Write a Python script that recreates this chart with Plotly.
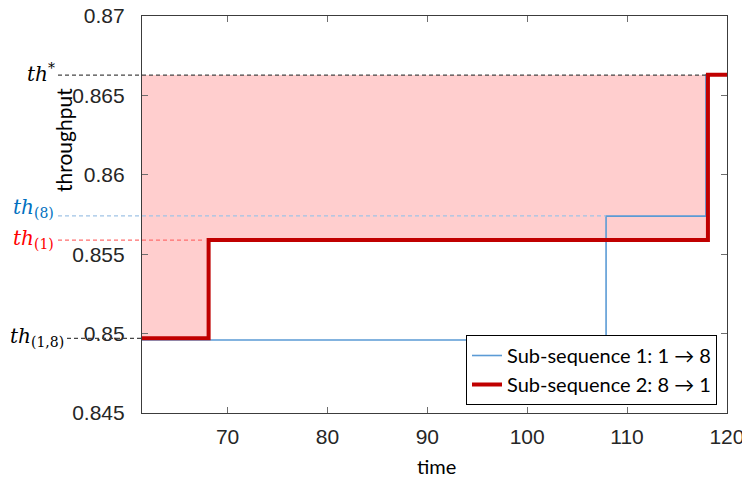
import plotly.graph_objects as go

# ---- data ----
x_range = [61.43, 120.01]
y_ticks = [0.845, 0.85, 0.855, 0.86, 0.865, 0.87]
y_tick_text = ["0.845", "0.85", "0.855", "0.86", "0.865", "0.87"]
x_ticks = [70, 80, 90, 100, 110, 120]

sub1_time = [61.43, 107.9, 117.9, 120.3]
sub1_thr = [0.8496, 0.8574, 0.8663, 0.8663]

sub2_time = [61.43, 68.1, 118.1, 120.3]
sub2_thr = [0.8497, 0.8559, 0.8663, 0.8663]

th_star = 0.86628
th_8 = 0.85741
th_1 = 0.85589
th_18 = 0.8497

BLUE = "rgb(91,155,213)"
RED = "rgb(192,0,0)"

fig = go.Figure()

# pink region between red step line and th*
fx, fy = [], []
for i in range(len(sub2_time) - 2):
    fx += [sub2_time[i], sub2_time[i + 1]]
    fy += [sub2_thr[i], sub2_thr[i]]
fx += [sub2_time[-2], sub2_time[0]]
fy += [th_star, th_star]
fig.add_trace(go.Scatter(x=fx, y=fy, fill="toself", fillcolor="rgb(255,206,206)",
                         line=dict(width=0), mode="lines", showlegend=False,
                         hoverinfo="skip"))

fig.add_trace(go.Scatter(x=sub1_time, y=sub1_thr, mode="lines", line_shape="hv",
                         line=dict(color=BLUE, width=1.6),
                         name="Sub-sequence 1: 1 → 8"))
fig.add_trace(go.Scatter(x=sub2_time, y=sub2_thr, mode="lines", line_shape="hv",
                         line=dict(color=RED, width=4),
                         name="Sub-sequence 2: 8 → 1"))

L, R, T, B = 142, 15, 16, 66
W, H = 742, 479
pw = W - L - R
ph = H - T - B


def px2paper(px):
    return (px - L) / pw


def d2paper(x):
    return (x - x_range[0]) / (x_range[1] - x_range[0])


shapes = []
def dashed(x0p, x1p, y, color):
    shapes.append(dict(type="line", xref="paper", yref="y", x0=x0p, x1=x1p,
                       y0=y, y1=y, line=dict(color=color, width=1.2, dash="4px,3px")))

dashed(px2paper(58), d2paper(sub1_time[2]), th_star, "rgb(70,70,70)")
dashed(px2paper(58), d2paper(sub1_time[1]), th_8, "rgb(160,195,230)")
dashed(px2paper(58), d2paper(sub2_time[1]) - 0.006, th_1, "rgb(255,110,110)")
dashed(px2paper(67), 0.0, th_18, "rgb(70,70,70)")
fig.update_layout(shapes=shapes)

lab_font = dict(family="DejaVu Serif", size=20)
def label(text, y, color, right_px, yshift=0):
    fig.add_annotation(xref="paper", yref="y", x=px2paper(right_px), y=y, xanchor="right",
                       yanchor="middle", text=text, showarrow=False, yshift=yshift,
                       font=dict(color=color, **lab_font))

label("<i>th</i><sup>*</sup>", th_star, "black", 57, 2)
label("<i>th</i><sub>(8)</sub>", th_8, "rgb(0,112,192)", 56, 8)
label("<i>th</i><sub>(1)</sub>", th_1, "rgb(255,0,0)", 56, 1)
label("<i>th</i><sub>(1,8)</sub>", th_18, "black", 66, 1)

fig.add_annotation(xref="paper", yref="paper", x=px2paper(63), y=(H - B - 140) / ph,
                   xanchor="center", yanchor="middle",
                   text="throughput", textangle=-90, showarrow=False,
                   font=dict(family="Lato", size=21, color="black"))
fig.add_annotation(xref="paper", yref="paper", x=px2paper(436), y=-(466 - (H - B)) / ph,
                   xanchor="center", yanchor="middle",
                   text="time", showarrow=False,
                   font=dict(family="Lato", size=20, color="black"))

axis_common = dict(showgrid=False, zeroline=False, showline=True, linecolor="rgb(60,60,60)",
                   linewidth=1.2, mirror="ticks", ticks="inside", ticklen=6,
                   tickcolor="rgb(110,110,110)", tickwidth=1.2, automargin=False,
                   ticklabeloverflow="allow",
                   tickfont=dict(family="Liberation Sans", size=21, color="rgb(38,38,38)"))

fig.update_xaxes(range=x_range, tickvals=x_ticks, ticklabelstandoff=5, **axis_common)
fig.update_yaxes(range=[0.845, 0.87], tickvals=y_ticks, ticktext=y_tick_text,
                 ticklabelstandoff=12, **axis_common)

fig.update_layout(
    width=W, height=H, margin=dict(l=L, r=R, t=T, b=B, autoexpand=False),
    paper_bgcolor="white", plot_bgcolor="white",
    legend=dict(x=px2paper(717), y=(H - B - 405) / ph, xanchor="right", yanchor="bottom",
                bgcolor="white", bordercolor="black", borderwidth=1,
                font=dict(family="Lato", size=20, color="black"),
                tracegroupgap=0, itemwidth=30),
)

fig.write_html("out.html", config={"displayModeBar": False},
               post_script="document.body.style.margin='0';")
